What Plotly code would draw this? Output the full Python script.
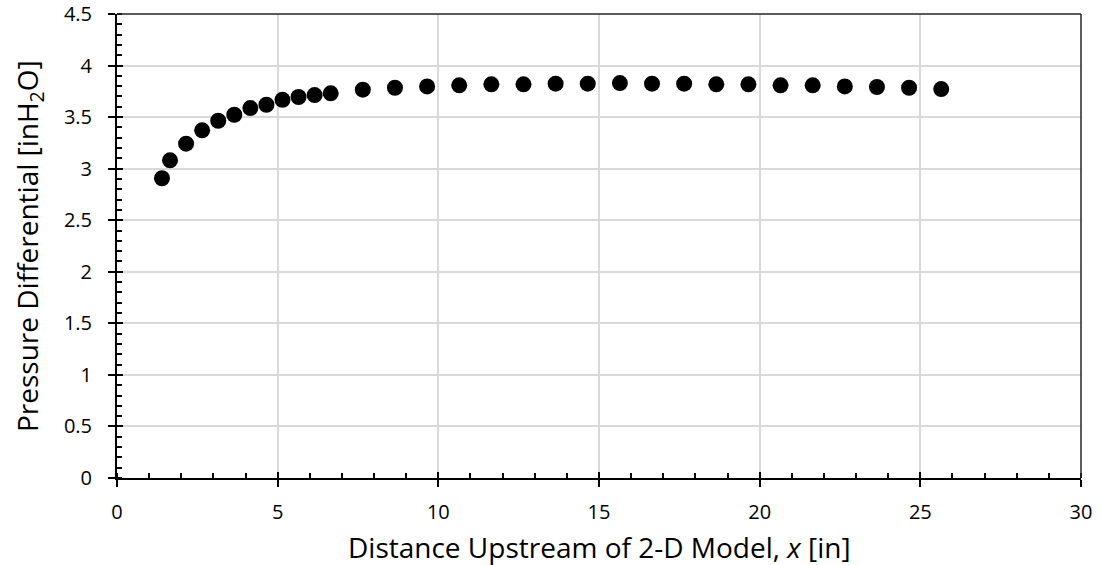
import plotly.graph_objects as go

# Data
distance_in = [1.40, 1.65, 2.15, 2.65, 3.15, 3.65, 4.15, 4.65, 5.15, 5.65, 6.15, 6.65,
               7.65, 8.65, 9.65, 10.65, 11.65, 12.65, 13.65, 14.65, 15.65, 16.65,
               17.65, 18.65, 19.65, 20.65, 21.65, 22.65, 23.65, 24.65, 25.65]
pressure_inh2o = [2.907, 3.081, 3.242, 3.372, 3.465, 3.523, 3.588, 3.620, 3.668, 3.695,
                  3.714, 3.731, 3.766, 3.785, 3.798, 3.808, 3.818, 3.818, 3.824, 3.824,
                  3.830, 3.824, 3.824, 3.818, 3.818, 3.808, 3.808, 3.798, 3.792, 3.785,
                  3.772]

x_range = [0, 30]
y_range = [0, 4.5]
x_title = "Distance Upstream of 2-D Model, <i>x</i> [in]"
y_title = "Pressure Differential [inH<sub>2</sub>O]"

FONT = "Open Sans"
TICK_SIZE = 20
TITLE_SIZE = 28

fig = go.Figure()
fig.add_trace(go.Scatter(
    x=distance_in, y=pressure_inh2o, mode="markers",
    marker=dict(color="black", size=16, line=dict(width=0)),
    showlegend=False, cliponaxis=False,
))
# invisible trace on overlay axes so they render
fig.add_trace(go.Scatter(x=[None], y=[None], xaxis="x2", yaxis="y2",
                         showlegend=False, hoverinfo="skip"))

fig.update_layout(
    width=1102, height=565,
    margin=dict(l=117, r=21, t=14, b=87, autoexpand=False),
    paper_bgcolor="white", plot_bgcolor="white",
    font=dict(family=FONT, color="black", size=TICK_SIZE),
    xaxis=dict(
        range=x_range, dtick=5, tick0=0, automargin=False,
        showgrid=True, gridcolor="#d9d9d9", gridwidth=1.5,
        zeroline=False, showline=True, linecolor="black", linewidth=2,
        ticks="outside", ticklen=7, tickwidth=1.5, tickcolor="black",
        minor=dict(dtick=1, ticks="inside", ticklen=5, tickwidth=1.5,
                   tickcolor="black", showgrid=False),
        tickfont=dict(family=FONT, size=TICK_SIZE, color="black"),
        ticklabelstandoff=8,
    ),
    yaxis=dict(
        range=y_range, dtick=0.5, tick0=0, automargin=False,
        showgrid=True, gridcolor="#d9d9d9", gridwidth=1.5,
        zeroline=False, showline=True, linecolor="black", linewidth=2,
        ticks="outside", ticklen=7, tickwidth=1.5, tickcolor="black",
        minor=dict(dtick=0.1, ticks="inside", ticklen=5, tickwidth=1.5,
                   tickcolor="black", showgrid=False),
        tickfont=dict(family=FONT, size=TICK_SIZE, color="black"),
        ticklabelstandoff=12,
    ),
    xaxis2=dict(
        overlaying="x", range=x_range, dtick=5, tick0=0, automargin=False,
        anchor="y", side="bottom",
        showgrid=False, zeroline=False, showline=False, showticklabels=False,
        ticks="inside", ticklen=6, tickwidth=1.5, tickcolor="black",
    ),
    yaxis2=dict(
        overlaying="y", range=y_range, dtick=0.5, tick0=0, automargin=False,
        anchor="x", side="left",
        showgrid=False, zeroline=False, showline=False, showticklabels=False,
        ticks="inside", ticklen=6, tickwidth=1.5, tickcolor="black",
    ),
    shapes=[
        dict(type="line", xref="x domain", yref="y domain", x0=0, x1=1, y0=1, y1=1,
             line=dict(color="#262626", width=1.5), layer="above"),
        dict(type="line", xref="x domain", yref="y domain", x0=1, x1=1, y0=0, y1=1,
             line=dict(color="#262626", width=1.5), layer="above"),
    ],
    annotations=[
        dict(text=x_title, xref="paper", yref="paper", x=0.5, y=0,
             xanchor="center", yanchor="middle", yshift=-69, showarrow=False,
             font=dict(family=FONT, size=TITLE_SIZE, color="black")),
        dict(text=y_title, xref="paper", yref="paper", x=0, y=0.5,
             xanchor="center", yanchor="middle", xshift=-88, textangle=-90,
             showarrow=False,
             font=dict(family=FONT, size=TITLE_SIZE, color="black")),
    ],
)

fig.write_html("out.html")
